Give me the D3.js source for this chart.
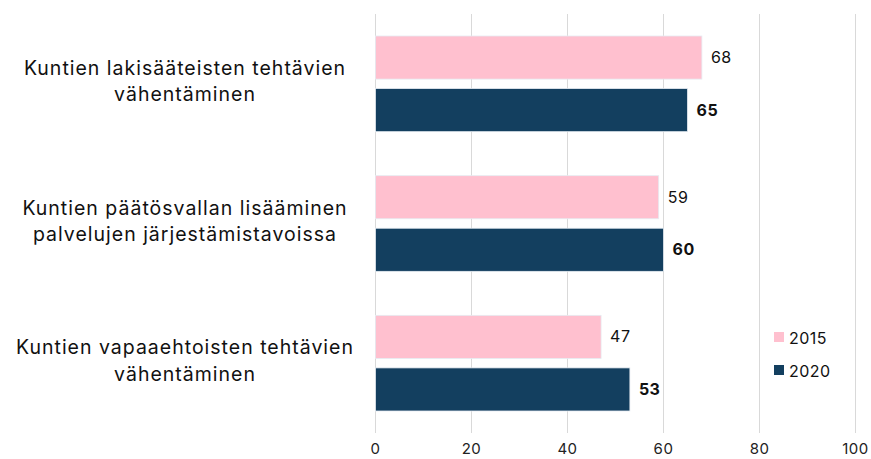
<!DOCTYPE html>
<html>
<head>
<meta charset="utf-8">
<script src="https://cdn.jsdelivr.net/npm/d3@7"></script>
<style>
  body { margin: 0; background: #fff; }
  svg { font-family: "Inter", "Open Sans", sans-serif; }
</style>
</head>
<body>
<div id="chart"></div>
<script>
// data
var categories = [
    ["Kuntien lakisääteisten tehtävien", "vähentäminen"],
    ["Kuntien päätösvallan lisääminen", "palvelujen järjestämistavoissa"],
    ["Kuntien vapaaehtoisten tehtävien", "vähentäminen"]
];
var seriesNames = ["2015", "2020"];
var values2015 = [68, 59, 47];
var values2020 = [65, 60, 53];
var xTicks = [0, 20, 40, 60, 80, 100];

var colors = { "2015": "#ffc0cf", "2020": "#133f5f" };

var width = 871, height = 459;
var plotLeft = 375.5, plotRight = 855.5, plotTop = 14, plotBottom = 433;

var svg = d3.select("#chart")
    .append("svg")
    .attr("width", width)
    .attr("height", height);

var x = d3.scaleLinear().domain([0, 100]).range([plotLeft, plotRight]);

var y = d3.scaleBand()
    .domain(d3.range(categories.length))
    .range([plotTop, plotBottom]);

var inner = d3.scaleBand()
    .domain(seriesNames)
    .range([22, y.bandwidth() - 22])
    .paddingInner(0.18);

// gridlines
svg.append("g")
    .selectAll("line")
    .data(xTicks)
    .enter().append("line")
    .attr("x1", function(d) { return x(d); })
    .attr("x2", function(d) { return x(d); })
    .attr("y1", plotTop)
    .attr("y2", plotBottom)
    .style("stroke", "#d9d9d9")
    .style("stroke-width", 1);

// tick labels
svg.append("g")
    .selectAll("text")
    .data(xTicks)
    .enter().append("text")
    .attr("x", function(d) { return x(d); })
    .attr("y", 449)
    .attr("dy", "0.35em")
    .style("text-anchor", "middle")
    .style("font-size", "15px")
    .style("letter-spacing", "0.5px")
    .style("fill", "#222")
    .text(function(d) { return d; });

var rows = categories.map(function(c, i) {
    return { i: i, label: c, vals: [
        { key: "2015", v: values2015[i] },
        { key: "2020", v: values2020[i] }
    ] };
});

var groups = svg.selectAll(".grp")
    .data(rows)
    .enter().append("g")
    .attr("class", "grp")
    .attr("transform", function(d) { return "translate(0," + y(d.i) + ")"; });

groups.selectAll("rect")
    .data(function(d) { return d.vals; })
    .enter().append("rect")
    .attr("x", x(0))
    .attr("y", function(d) { return inner(d.key); })
    .attr("width", function(d) { return x(d.v) - x(0); })
    .attr("height", inner.bandwidth())
    .style("fill", function(d) { return colors[d.key]; })
    .style("stroke", "#e6ecf2")
    .style("stroke-width", 0.8);

groups.selectAll(".val")
    .data(function(d) { return d.vals; })
    .enter().append("text")
    .attr("class", "val")
    .attr("x", function(d) { return x(d.v) + 9; })
    .attr("y", function(d) { return inner(d.key) + inner.bandwidth() / 2; })
    .attr("dy", "0.35em")
    .style("font-size", "16px")
    .style("letter-spacing", "0.5px")
    .style("font-weight", function(d) { return d.key === "2020" ? "bold" : "normal"; })
    .style("fill", "#111")
    .text(function(d) { return d.v; });

// category labels
groups.append("text")
    .attr("x", 185)
    .attr("y", y.bandwidth() / 2)
    .style("text-anchor", "middle")
    .style("font-size", "19.5px")
    .style("letter-spacing", "1px")
    .style("fill", "#111")
    .selectAll("tspan")
    .data(function(d) { return d.label; })
    .enter().append("tspan")
    .attr("x", 185)
    .attr("dy", function(d, i) { return i === 0 ? "-0.45em" : "1.35em"; })
    .text(function(d) { return d; });

// legend
var legend = svg.append("g")
    .selectAll("g")
    .data(seriesNames)
    .enter().append("g")
    .attr("transform", function(d, i) { return "translate(774," + (338 + i * 33) + ")"; });

legend.append("rect")
    .attr("x", 0)
    .attr("y", -6)
    .attr("width", 10)
    .attr("height", 10)
    .style("fill", function(d) { return colors[d]; });

legend.append("text")
    .attr("x", 15)
    .attr("y", 0)
    .attr("dy", "0.35em")
    .style("font-size", "16px")
    .style("letter-spacing", "0.5px")
    .style("fill", "#111")
    .text(function(d) { return d; });
</script>
</body>
</html>
